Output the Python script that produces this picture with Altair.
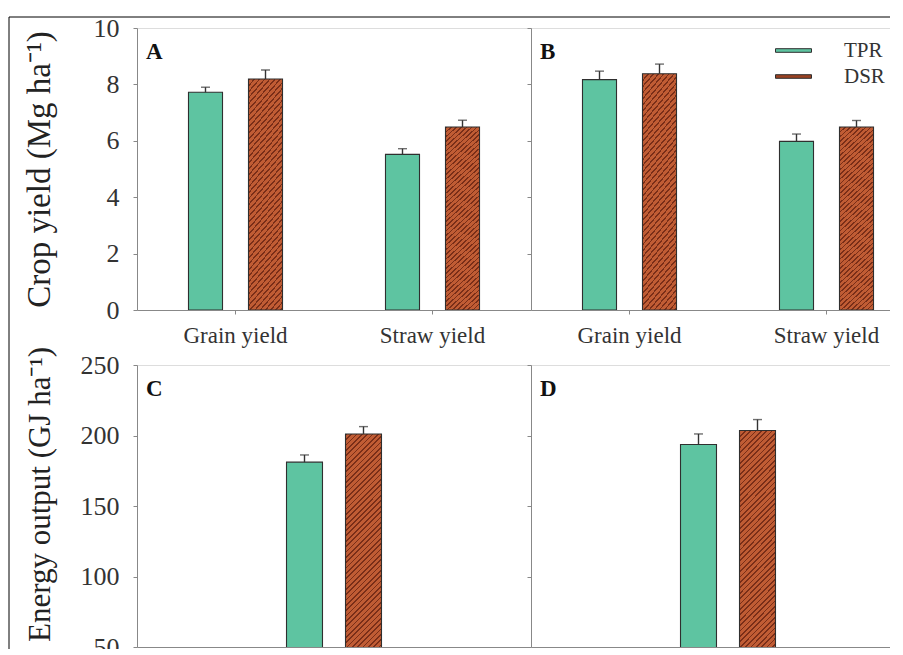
import altair as alt
import pandas as pd

# ---------------- data ----------------
categories = ["Grain yield", "Straw yield"]
treatments = ["TPR", "DSR"]

a_tpr = [7.72, 5.52]
a_tpr_err = [0.18, 0.20]
a_dsr = [8.19, 6.49]
a_dsr_err = [0.32, 0.24]

b_tpr = [8.17, 5.98]
b_tpr_err = [0.30, 0.26]
b_dsr = [8.38, 6.49]
b_dsr_err = [0.34, 0.23]

energy_cat = ["Energy output"]
c_tpr = [181.1]
c_tpr_err = [5.1]
c_dsr = [201.1]
c_dsr_err = [5.2]

d_tpr = [193.6]
d_tpr_err = [7.5]
d_dsr = [203.5]
d_dsr_err = [7.8]

crop_ticks = [0, 2, 4, 6, 8, 10]
energy_ticks = [50, 100, 150, 200, 250]


def frame(cats, tpr, tpr_err, dsr, dsr_err):
    rows = []
    for i, c in enumerate(cats):
        rows.append({"cat": c, "trt": "TPR", "val": tpr[i], "err": tpr_err[i]})
        rows.append({"cat": c, "trt": "DSR", "val": dsr[i], "err": dsr_err[i]})
    return pd.DataFrame(rows)


dfA = frame(categories, a_tpr, a_tpr_err, a_dsr, a_dsr_err)
dfB = frame(categories, b_tpr, b_tpr_err, b_dsr, b_dsr_err)
dfC = frame(energy_cat, c_tpr, c_tpr_err, c_dsr, c_dsr_err)
dfD = frame(energy_cat, d_tpr, d_tpr_err, d_dsr, d_dsr_err)

# ---------------- style ----------------
FONT = "Liberation Serif"
TPR_FILL = "#5ec4a1"
DSR_BASE = "#c05c34"
DSR_DARK = "#7a2e18"
EDGE = "#2f2f2f"
W = 394
H = 282


def hatch(a, n):
    stops = []
    for k in range(n):
        s = k / n
        m = (k + 0.32) / n
        e = (k + 1) / n
        stops += [
            alt.GradientStop(color=DSR_DARK, offset=s),
            alt.GradientStop(color=DSR_DARK, offset=m),
            alt.GradientStop(color=DSR_BASE, offset=m),
            alt.GradientStop(color=DSR_BASE, offset=e),
        ]
    return alt.LinearGradient(gradient="linear", stops=stops,
                              x1=0, y1=0, x2=a * 1.15, y2=1.15)


HATCH_TOP = hatch(0.17, 46)
HATCH_BOT = hatch(0.127, 62)


def panel(df, cats, ydom, yticks, ytitle, letter, top, show_ylabels,
          title_pad=38, title_size=33, title_y=None, legend=False, border=False):
    if top:
        xscale = alt.Scale(domain=cats, paddingInner=0, paddingOuter=0)
        oscale = alt.Scale(domain=treatments, paddingInner=0.433, paddingOuter=0.858)
        grad = HATCH_TOP
        xaxis = alt.Axis(title=None, labelFont=FONT, labelFontSize=23,
                         labelColor="#333", labelPadding=10, tickSize=4,
                         labelAngle=0)
    else:
        xscale = alt.Scale(domain=cats, paddingInner=0, paddingOuter=1)
        oscale = alt.Scale(domain=treatments, paddingInner=0.39, paddingOuter=0.308)
        grad = HATCH_BOT
        xaxis = alt.Axis(title=None, labels=False, ticks=False)

    yscale = alt.Scale(domain=ydom, nice=False, zero=False)
    if show_ylabels:
        kw = dict(values=yticks, title=ytitle, titleFont=FONT,
                  titleFontSize=title_size, titleFontWeight="normal",
                  titleColor="#222", titlePadding=title_pad,
                  labelFont=FONT, labelFontSize=26, labelColor="#333",
                  labelPadding=14, tickSize=4, grid=False)
        if title_y is not None:
            kw["titleY"] = title_y
        yaxis = alt.Axis(**kw)
    else:
        yaxis = alt.Axis(values=yticks, title=None, labels=False,
                         tickSize=4, grid=False)

    base = alt.Chart(df).transform_calculate(hi="datum.val + datum.err").encode(
        x=alt.X("cat:N", sort=cats, scale=xscale, axis=xaxis),
        xOffset=alt.XOffset("trt:N", sort=treatments, scale=oscale),
    )
    tpr = base.transform_filter("datum.trt == 'TPR'").mark_bar(
        fill=TPR_FILL, stroke=EDGE, strokeWidth=1.1, clip=True
    ).encode(y=alt.Y("val:Q", scale=yscale, axis=yaxis))
    dsr = base.transform_filter("datum.trt == 'DSR'").mark_bar(
        fill=grad, stroke=EDGE, strokeWidth=1.1, clip=True
    ).encode(y=alt.Y("val:Q", scale=yscale, axis=yaxis))
    err = base.mark_rule(color="#333", strokeWidth=1.4).encode(
        y=alt.Y("val:Q", scale=yscale, axis=yaxis), y2="hi:Q")
    cap = base.mark_tick(color="#333", thickness=1.4, size=9, orient="horizontal").encode(
        y=alt.Y("hi:Q", scale=yscale, axis=yaxis))

    lab = alt.Chart(pd.DataFrame({"label": [letter]})).mark_text(
        font=FONT, fontSize=23, fontWeight="bold", color="#111",
        align="left", baseline="alphabetic"
    ).encode(text="label:N", x=alt.value(9), y=alt.value(31))

    layers = [tpr, dsr, err, cap, lab]

    if legend:
        leg = base.mark_square(opacity=0, size=10).encode(
            y=alt.Y("val:Q", scale=yscale, axis=yaxis),
            color=alt.Color("trt:N", sort=treatments,
                            scale=alt.Scale(domain=treatments, range=[TPR_FILL, "#9a4222"]),
                            legend=alt.Legend(
                                title=None, orient="none", legendX=252, legendY=12,
                                symbolType="M-2,-0.2H2V0.2H-2Z", symbolSize=324,
                                symbolStrokeColor=EDGE, symbolStrokeWidth=1,
                                symbolOpacity=1, labelFont=FONT, labelFontSize=21,
                                labelColor="#333", labelOffset=40, rowPadding=4,
                                padding=0)),
        )
        layers.append(leg)

    if border:
        one = pd.DataFrame({"k": [0]})
        vline = alt.Chart(one).mark_rule(color="black", strokeWidth=1).encode(
            x=alt.value(-128), y=alt.value(-11), y2=alt.value(660))
        hline = alt.Chart(one).mark_rule(color="black", strokeWidth=1).encode(
            x=alt.value(-128), x2=alt.value(767), y=alt.value(-11))
        layers += [vline, hline]

    return alt.layer(*layers).properties(width=W, height=H)


pA = panel(dfA, categories, [0, 10], crop_ticks, "Crop yield (Mg ha⁻¹)", "A",
           top=True, show_ylabels=True, title_pad=37, title_size=33, border=True)
pB = panel(dfB, categories, [0, 10], crop_ticks, None, "B",
           top=True, show_ylabels=False, legend=True)
pC = panel(dfC, energy_cat, [50, 250], energy_ticks, "Energy output (GJ ha⁻¹)", "C",
           top=False, show_ylabels=True, title_pad=24, title_size=31, title_y=129)
pD = panel(dfD, energy_cat, [50, 250], energy_ticks, None, "D",
           top=False, show_ylabels=False)

chart = alt.concat(pA, pB, pC, pD, columns=2, spacing={"row": 55, "column": 0},
                   bounds="flush").resolve_scale(
    color="independent", x="independent", y="independent", xOffset="independent"
).properties(
    padding={"left": 0, "top": 6, "right": -36, "bottom": -40}
).configure_view(
    stroke="#999", strokeWidth=1.6
).configure_axis(
    domainColor="#666", domainWidth=1.6, tickColor="#666", tickWidth=1.2
).configure(background="white")

chart.save("out.html", embed_options={"renderer": "svg", "actions": False})
